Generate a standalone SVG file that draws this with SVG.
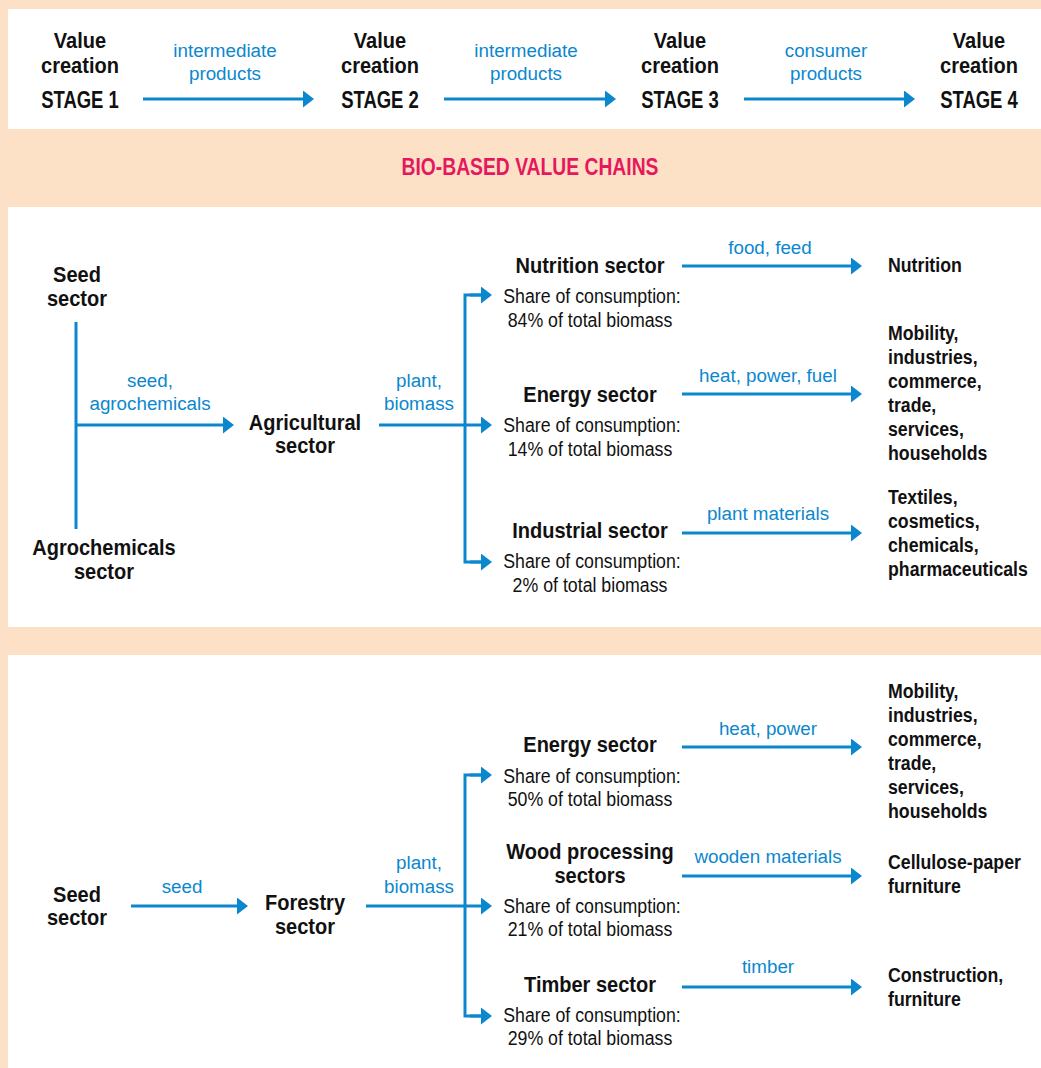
<svg xmlns="http://www.w3.org/2000/svg" width="1041" height="1068" viewBox="0 0 1041 1068">
<defs>
<style>
text{font-family:"Liberation Sans",Arial,sans-serif;transform-box:fill-box}
.nb{font-weight:bold;font-size:22px;fill:#111;text-anchor:middle;transform-origin:50% 50%;transform:scaleX(0.91)}
.st{font-weight:bold;font-size:24.5px;fill:#111;text-anchor:middle;transform-origin:50% 50%;transform:scaleX(0.755)}
.rl{font-weight:bold;font-size:20.5px;fill:#111;text-anchor:start;transform-origin:0 50%;transform:scaleX(0.865)}
.lb{font-size:18.8px;fill:#0B87CE;text-anchor:middle}
.sh{font-size:21px;fill:#111;text-anchor:middle;transform-origin:50% 50%;transform:scaleX(0.845)}
.hd{font-weight:bold;font-size:23px;fill:#E5185E;text-anchor:middle;transform-origin:50% 50%;transform:scaleX(0.84)}
.cn{stroke:#0B87CE;stroke-width:3;fill:none}
.panel{fill:#fff}
</style>
<marker id="ah" markerUnits="userSpaceOnUse" markerWidth="11" markerHeight="17" refX="1" refY="8.5" orient="auto">
<path d="M0,0 L11,8.5 L0,17 z" fill="#0B87CE"/>
</marker>
</defs>
<rect x="0" y="0" width="1041" height="1068" fill="#FDE1C6"/>
<rect class="panel" x="8" y="9" width="1033" height="120"/>
<rect class="panel" x="8" y="207" width="1033" height="420"/>
<rect class="panel" x="8" y="655" width="1033" height="413"/>

<g id="header"><text class="hd" x="530" y="175">BIO-BASED VALUE CHAINS</text></g>

<g id="stage1"><text class="nb" x="80" y="48">Value</text><text class="nb" x="80" y="73">creation</text><text class="st" x="80" y="108">STAGE 1</text></g>
<g id="stage2"><text class="nb" x="380" y="48">Value</text><text class="nb" x="380" y="73">creation</text><text class="st" x="380" y="108">STAGE 2</text></g>
<g id="stage3"><text class="nb" x="680" y="48">Value</text><text class="nb" x="680" y="73">creation</text><text class="st" x="680" y="108">STAGE 3</text></g>
<g id="stage4"><text class="nb" x="979" y="48">Value</text><text class="nb" x="979" y="73">creation</text><text class="st" x="979" y="108">STAGE 4</text></g>

<g id="connectors">
<path class="cn" d="M143,99 H304" marker-end="url(#ah)"/>
<path class="cn" d="M444,99 H606" marker-end="url(#ah)"/>
<path class="cn" d="M744,99 H905" marker-end="url(#ah)"/>

<path class="cn" d="M76,322 V529"/>
<path class="cn" d="M76,425 H224" marker-end="url(#ah)"/>
<path class="cn" d="M379,425 H482" marker-end="url(#ah)"/>
<path class="cn" d="M482,295 H465 V562 H482"/>
<path class="cn" d="M470,295 H482" marker-end="url(#ah)"/>
<path class="cn" d="M470,562 H482" marker-end="url(#ah)"/>
<path class="cn" d="M682,266 H852" marker-end="url(#ah)"/>
<path class="cn" d="M682,394 H852" marker-end="url(#ah)"/>
<path class="cn" d="M682,533 H852" marker-end="url(#ah)"/>

<path class="cn" d="M131,906 H238" marker-end="url(#ah)"/>
<path class="cn" d="M366,906 H482" marker-end="url(#ah)"/>
<path class="cn" d="M482,775 H465 V1016 H482"/>
<path class="cn" d="M470,775 H482" marker-end="url(#ah)"/>
<path class="cn" d="M470,1016 H482" marker-end="url(#ah)"/>
<path class="cn" d="M682,747 H852" marker-end="url(#ah)"/>
<path class="cn" d="M682,876 H852" marker-end="url(#ah)"/>
<path class="cn" d="M682,987 H852" marker-end="url(#ah)"/>
</g>

<g id="connector-labels">
<text class="lb" x="225" y="57">intermediate</text><text class="lb" x="225" y="80">products</text>
<text class="lb" x="526" y="57">intermediate</text><text class="lb" x="526" y="80">products</text>
<text class="lb" x="826" y="57">consumer</text><text class="lb" x="826" y="80">products</text>
<text class="lb" x="150" y="387">seed,</text><text class="lb" x="150" y="410">agrochemicals</text>
<text class="lb" x="419" y="387">plant,</text><text class="lb" x="419" y="410">biomass</text>
<text class="lb" x="770" y="254">food, feed</text>
<text class="lb" x="768" y="382">heat, power, fuel</text>
<text class="lb" x="768" y="520">plant materials</text>
<text class="lb" x="182" y="893">seed</text>
<text class="lb" x="419" y="869">plant,</text><text class="lb" x="419" y="893">biomass</text>
<text class="lb" x="768" y="735">heat, power</text>
<text class="lb" x="768" y="863">wooden materials</text>
<text class="lb" x="768" y="973">timber</text>
</g>

<g id="seed-sector-1"><text class="nb" x="77" y="282">Seed</text><text class="nb" x="77" y="306">sector</text></g>
<g id="agrochemicals-sector"><text class="nb" x="104" y="555">Agrochemicals</text><text class="nb" x="104" y="579">sector</text></g>
<g id="agricultural-sector"><text class="nb" x="305" y="430">Agricultural</text><text class="nb" x="305" y="453">sector</text></g>

<g id="nutrition-sector"><text class="nb" x="590" y="273">Nutrition sector</text><text class="sh" x="592" y="303">Share of consumption:</text><text class="sh" x="590" y="327">84% of total biomass</text></g>
<g id="energy-sector-1"><text class="nb" x="590" y="402">Energy sector</text><text class="sh" x="592" y="432">Share of consumption:</text><text class="sh" x="590" y="456">14% of total biomass</text></g>
<g id="industrial-sector"><text class="nb" x="590" y="538">Industrial sector</text><text class="sh" x="592" y="568">Share of consumption:</text><text class="sh" x="590" y="592">2% of total biomass</text></g>

<g id="nutrition"><text class="rl" x="888" y="272">Nutrition</text></g>
<g id="energy-uses-1"><text class="rl" x="888" y="340">Mobility,</text><text class="rl" x="888" y="364">industries,</text><text class="rl" x="888" y="388">commerce,</text><text class="rl" x="888" y="412">trade,</text><text class="rl" x="888" y="436">services,</text><text class="rl" x="888" y="460">households</text></g>
<g id="industrial-uses"><text class="rl" x="888" y="504">Textiles,</text><text class="rl" x="888" y="528">cosmetics,</text><text class="rl" x="888" y="552">chemicals,</text><text class="rl" x="888" y="576">pharmaceuticals</text></g>

<g id="seed-sector-2"><text class="nb" x="77" y="902">Seed</text><text class="nb" x="77" y="925">sector</text></g>
<g id="forestry-sector"><text class="nb" x="305" y="910">Forestry</text><text class="nb" x="305" y="934">sector</text></g>

<g id="energy-sector-2"><text class="nb" x="590" y="752">Energy sector</text><text class="sh" x="592" y="783">Share of consumption:</text><text class="sh" x="590" y="806">50% of total biomass</text></g>
<g id="wood-processing-sectors"><text class="nb" x="590" y="859">Wood processing</text><text class="nb" x="590" y="883">sectors</text><text class="sh" x="592" y="913">Share of consumption:</text><text class="sh" x="590" y="936">21% of total biomass</text></g>
<g id="timber-sector"><text class="nb" x="590" y="992">Timber sector</text><text class="sh" x="592" y="1022">Share of consumption:</text><text class="sh" x="590" y="1045">29% of total biomass</text></g>

<g id="energy-uses-2"><text class="rl" x="888" y="698">Mobility,</text><text class="rl" x="888" y="722">industries,</text><text class="rl" x="888" y="746">commerce,</text><text class="rl" x="888" y="770">trade,</text><text class="rl" x="888" y="794">services,</text><text class="rl" x="888" y="818">households</text></g>
<g id="wood-uses"><text class="rl" x="888" y="869">Cellulose-paper</text><text class="rl" x="888" y="893">furniture</text></g>
<g id="timber-uses"><text class="rl" x="888" y="982">Construction,</text><text class="rl" x="888" y="1006">furniture</text></g>
</svg>
